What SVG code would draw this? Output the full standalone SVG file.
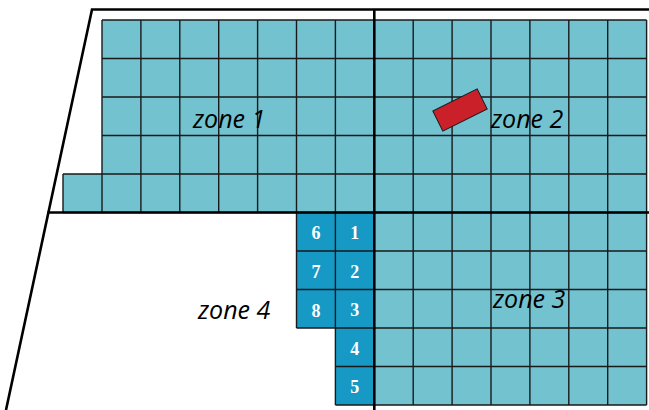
<svg xmlns="http://www.w3.org/2000/svg" width="649" height="410" viewBox="0 0 649 410">
<style>
.light{fill:#73c2cf}
.dark{fill:#1699c4}
.grid{fill:none;stroke:#1a1a1a;stroke-width:1.4}
.frame{fill:none;stroke:#000;stroke-width:2.6}
.zone{font-family:"Open Sans","Liberation Sans",sans-serif;font-style:italic;font-size:25px;fill:#000}
.num{font-family:"Liberation Serif",serif;font-weight:bold;font-size:18px;fill:#fff;text-anchor:middle}
</style>
<rect width="649" height="410" fill="#fff"/>
<g id="cells">
<polygon class="light" points="102,20 646.6,20 646.6,405 374.3,405 374.3,212.5 63,212.5 63,174 102,174"/>
<polygon class="dark" points="296.5,212.5 374.3,212.5 374.3,405 335.4,405 335.4,328 296.5,328"/>
</g>
<path class="grid" d="M102,20H646.6M102,58.5H646.6M102,97H646.6M102,135.5H646.6M63,174H646.6M63,212.5H646.6M296.5,251H646.6M296.5,289.5H646.6M296.5,328H646.6M335.4,366.5H646.6M335.4,405H646.6
M63,174V212.5M102,20V212.5M140.9,20V212.5M179.8,20V212.5M218.7,20V212.5M257.6,20V212.5M296.5,20V328M335.4,20V405M374.3,20V405M413.2,20V405M452.1,20V405M491,20V405M529.9,20V405M568.8,20V405M607.7,20V405M646.6,20V405"/>
<g id="frame">
<path class="frame" d="M649,9.5H92L6,410"/>
<path class="frame" d="M47.5,212.5H649"/>
<path class="frame" d="M374.3,9.5V410"/>
</g>
<g id="obstacle">
<rect x="435.25" y="98.75" width="49.5" height="22.5" transform="rotate(-26.4 460 110)" fill="#c9202a" stroke="#1a1a1a" stroke-width="1"/>
</g>
<g id="labels">
<text class="zone" x="193" y="128">zone 1</text>
<text class="zone" x="491" y="128">zone 2</text>
<text class="zone" x="493" y="308">zone 3</text>
<text class="zone" x="198" y="319">zone 4</text>
</g>
<g id="numbers">
<text class="num" x="316" y="239">6</text>
<text class="num" x="354.8" y="239">1</text>
<text class="num" x="316" y="277.5">7</text>
<text class="num" x="354.8" y="277.5">2</text>
<text class="num" x="316" y="316.5">8</text>
<text class="num" x="354.8" y="315.5">3</text>
<text class="num" x="354.8" y="354.5">4</text>
<text class="num" x="354.8" y="393">5</text>
</g>
</svg>
